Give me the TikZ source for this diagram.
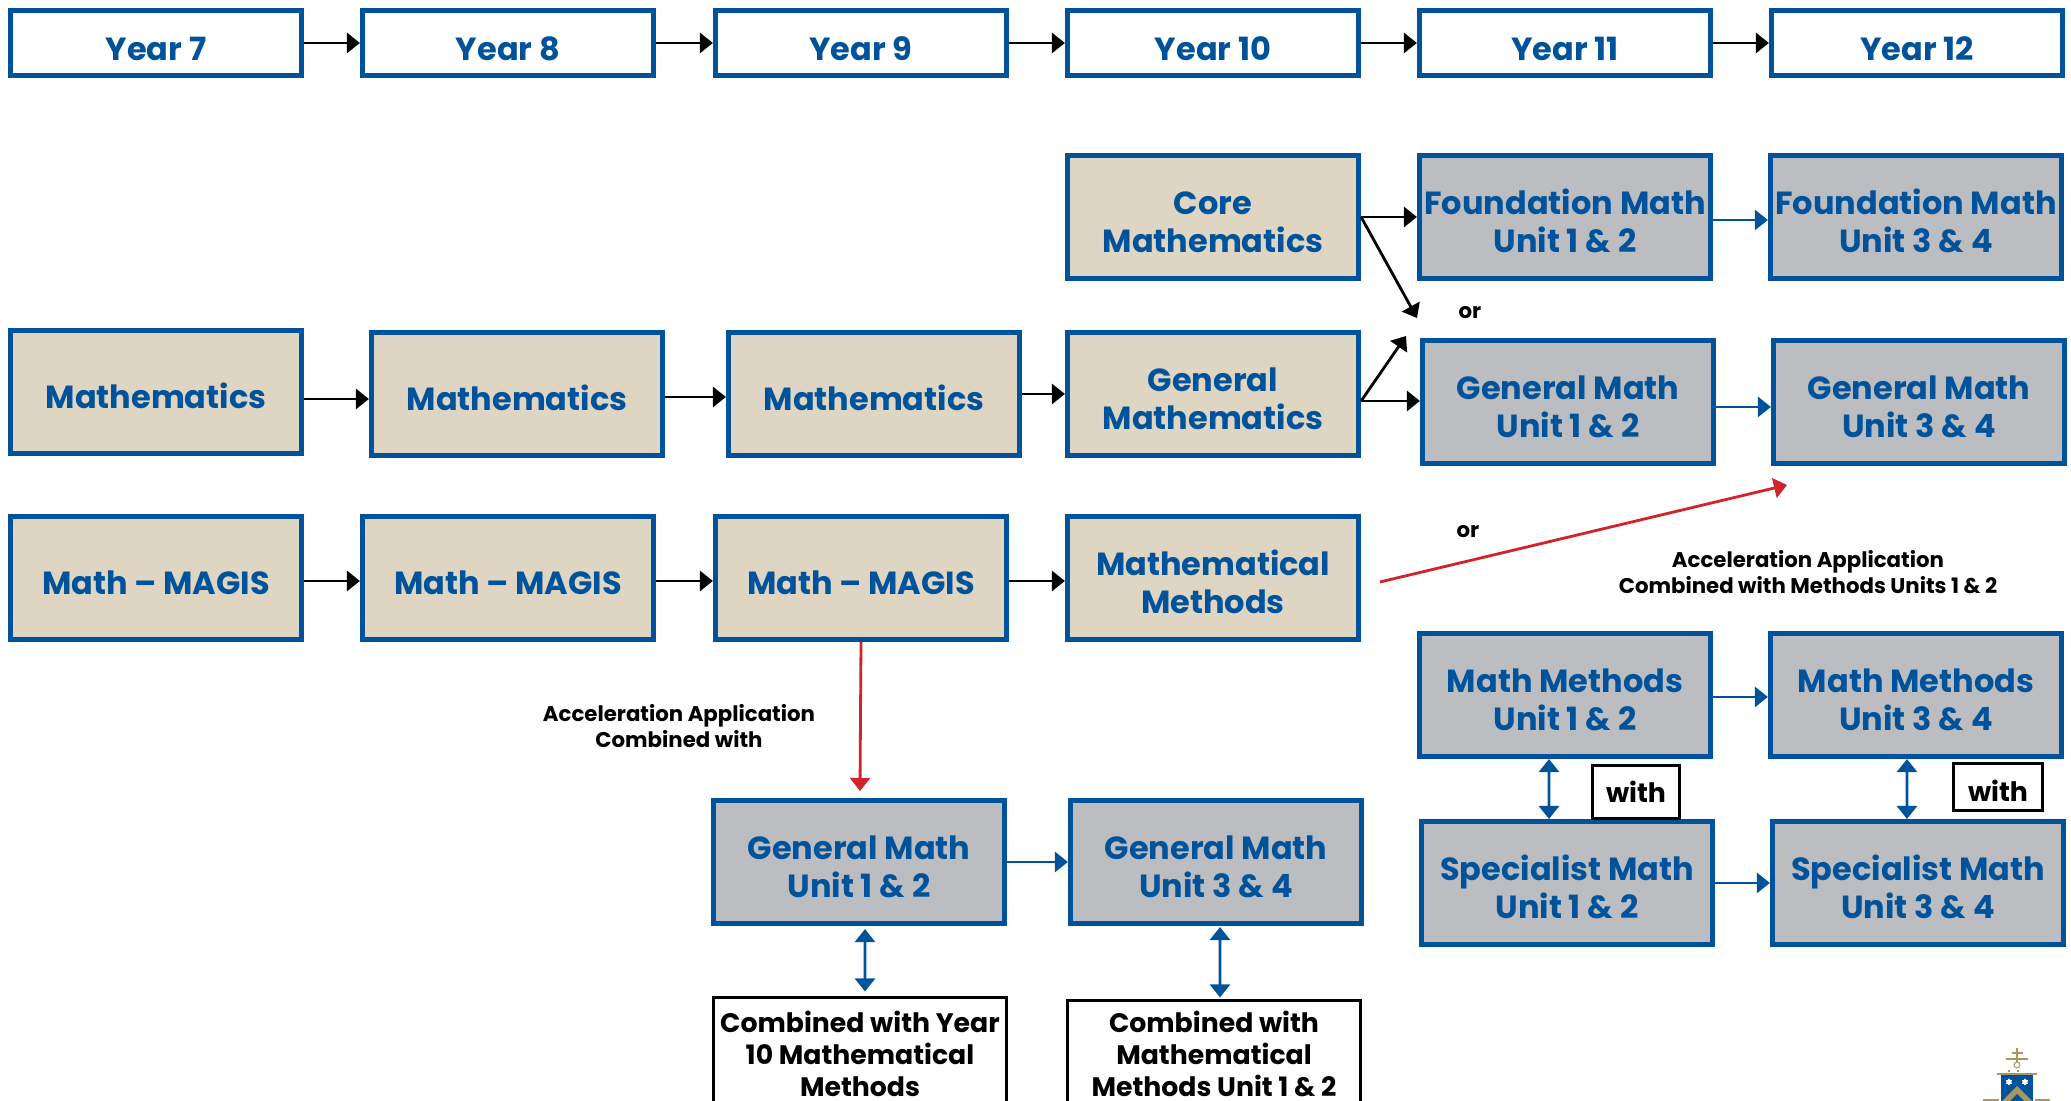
\documentclass[tikz,border=0pt]{standalone}
\usepackage{fontspec}
\setmainfont{Poppins}
\usepackage{xcolor}
\usepackage{tikz}
\usetikzlibrary{positioning, calc, arrows.meta, shapes.geometric}
\definecolor{schoolblue}{RGB}{0,83,155}
\definecolor{tanfill}{RGB}{222,214,194}
\definecolor{greyfill}{RGB}{188,189,192}
\definecolor{arrowred}{RGB}{210,35,42}
\definecolor{crestgold}{RGB}{170,150,95}

\begin{document}
\begin{tikzpicture}[x=0.01cm, y=-0.01cm]
	\tikzstyle{yearbox}=[draw=schoolblue, line width=0.05cm, minimum height=0.65cm, minimum width=2.91cm, inner sep=0, fill=white, text=schoolblue, font=\fontsize{9.1}{10.8}\selectfont\bfseries, execute at begin node={\rule{0pt}{10pt}}]
	\tikzstyle{tanbox}=[draw=schoolblue, line width=0.05cm, minimum height=1.23cm, minimum width=2.91cm, inner sep=0, fill=tanfill, text=schoolblue, align=center, font=\fontsize{9.1}{10.8}\selectfont\bfseries, execute at begin node={\rule{0pt}{9.5pt}}]
	\tikzstyle{twolines}=[execute at begin node={\rule{0pt}{20.5pt}}]
	\tikzstyle{greybox}=[tanbox, twolines, fill=greyfill]
	\tikzstyle{notebox}=[draw=black, line width=0.03cm, minimum height=1.12cm, minimum width=2.93cm, inner sep=0, fill=white, text=black, align=center, font=\fontsize{7.6}{9}\selectfont\bfseries]
	\tikzstyle{withbox}=[draw=black, line width=0.03cm, inner sep=0, fill=white, text=black, font=\fontsize{7.6}{9}\selectfont\bfseries]
	\tikzstyle{smalltext}=[inner sep=0, text=black, align=center, font=\fontsize{6.05}{7.4}\selectfont\bfseries]
	\tikzstyle{blackarrow}=[-{Triangle[length=0.13cm, width=0.2cm]}, line width=0.028cm, black]
	\tikzstyle{bluearrow}=[-{Triangle[length=0.13cm, width=0.2cm]}, line width=0.028cm, schoolblue]
	\tikzstyle{bluedouble}=[{Triangle[length=0.13cm, width=0.2cm]}-{Triangle[length=0.13cm, width=0.2cm]}, line width=0.028cm, schoolblue]
	\tikzstyle{redarrow}=[-{Triangle[length=0.13cm, width=0.2cm]}, line width=0.028cm, arrowred]

	\clip [use as bounding box] (0,0) rectangle (2071,1101);

	% year row
	\node (yr7) at (156,43) [yearbox] {Year 7};
	\node (yr8) at (508,43) [yearbox] {Year 8};
	\node (yr9) at (861,43) [yearbox] {Year 9};
	\node (yr10) at (1213,43) [yearbox] {Year 10};
	\node (yr11) at (1565,43) [yearbox] {Year 11};
	\node (yr12) at (1917,43) [yearbox] {Year 12};

	\draw [blackarrow] (yr7) -- (yr8);
	\draw [blackarrow] (yr8) -- (yr9);
	\draw [blackarrow] (yr9) -- (yr10);
	\draw [blackarrow] (yr10) -- (yr11);
	\draw [blackarrow] (yr11) -- (yr12);

	% year 7 to 10
	\node (core) at (1213,217) [tanbox, twolines] {Core\\Mathematics};
	\node (mat7) at (156,392) [tanbox] {Mathematics};
	\node (mat8) at (517,394) [tanbox] {Mathematics};
	\node (mat9) at (874,394) [tanbox] {Mathematics};
	\node (genm) at (1213,394) [tanbox, twolines] {General\\Mathematics};
	\node (mag7) at (156,578) [tanbox] {Math – MAGIS};
	\node (mag8) at (508,578) [tanbox] {Math – MAGIS};
	\node (mag9) at (861,578) [tanbox] {Math – MAGIS};
	\node (meth) at (1213,578) [tanbox, twolines] {Mathematical\\Methods};

	% year 11 and 12
	\node (fnd12) at (1565,217) [greybox] {Foundation Math\\Unit 1 \& 2};
	\node (fnd34) at (1916,217) [greybox] {Foundation Math\\Unit 3 \& 4};
	\node (gen12) at (1568,402) [greybox] {General Math\\Unit 1 \& 2};
	\node (gen34) at (1919,402) [greybox] {General Math\\Unit 3 \& 4};
	\node (mm12) at (1565,695) [greybox] {Math Methods\\Unit 1 \& 2};
	\node (mm34) at (1916,695) [greybox] {Math Methods\\Unit 3 \& 4};
	\node (sp12) at (1567,883) [greybox] {Specialist Math\\Unit 1 \& 2};
	\node (sp34) at (1918,883) [greybox] {Specialist Math\\Unit 3 \& 4};

	% accelerated path
	\node (acc12) at (859,862) [greybox] {General Math\\Unit 1 \& 2};
	\node (acc34) at (1216,862) [greybox] {General Math\\Unit 3 \& 4};
	\node (comb1) at (860,1054) [notebox] {Combined with Year\\10 Mathematical\\Methods};
	\node (comb2) at (1214,1054) [notebox, minimum height=1.06cm] {Combined with\\Mathematical\\Methods Unit 1 \& 2};

	\node (with1) at (1636,792) [withbox, minimum width=0.87cm, minimum height=0.52cm] {with};
	\node (with2) at (1998,787) [withbox, minimum width=0.88cm, minimum height=0.47cm, execute at begin node={\rule{0pt}{8.4pt}}] {with};

	\node (or1) at (1470,313) [smalltext] {or};
	\node (or2) at (1468,532) [smalltext] {or};
	\node (acclabel1) at (679,726) [smalltext] {Acceleration Application\\Combined with};
	\node (acclabel2) at (1808,572) [smalltext] {Acceleration Application\\Combined with Methods Units 1 \& 2};

	\coordinate (coreend) at (1417,318);
	\coordinate (genend) at (1406,336);
	\coordinate (redstart) at (1380,582);
	\coordinate (redend) at (1787,485);
	\coordinate (accend) at (860,791);

	\draw [blackarrow] ([yshift=-0.07cm]mat7.east) -- ([yshift=-0.07cm]mat7.east -| mat8.west);
	\draw [blackarrow] ([yshift=-0.03cm]mat8.east) -- ([yshift=-0.03cm]mat9.west);
	\draw [blackarrow] (mat9) -- (genm);
	\draw [blackarrow] ([yshift=-0.03cm]mag7.east) -- ([yshift=-0.03cm]mag8.west);
	\draw [blackarrow] ([yshift=-0.03cm]mag8.east) -- ([yshift=-0.03cm]mag9.west);
	\draw [blackarrow] ([yshift=-0.03cm]mag9.east) -- ([yshift=-0.03cm]meth.west);

	\draw [blackarrow] (core.east) -- (fnd12.west |- core.east);
	\draw [blackarrow] (core.east) -- (coreend);
	\draw [blackarrow] ([yshift=-0.07cm]genm.east) -- ([yshift=-0.07cm]genm.east -| gen12.west);
	\draw [blackarrow] ([yshift=-0.07cm]genm.east) -- (genend);

	\draw [bluearrow] ([yshift=-0.03cm]fnd12.east) -- ([yshift=-0.03cm]fnd34.west);
	\draw [bluearrow] ([yshift=-0.05cm]gen12.east) -- ([yshift=-0.05cm]gen34.west);
	\draw [bluearrow] ([yshift=-0.02cm]mm12.east) -- ([yshift=-0.02cm]mm34.west);
	\draw [bluearrow] (sp12.east) -- (sp34.west);
	\draw [bluearrow] (acc12.east) -- (acc34.west);

	\draw [bluedouble] ([xshift=-0.16cm]mm12.south) -- ([xshift=-0.18cm]sp12.north);
	\draw [bluedouble] ([xshift=-0.09cm]mm34.south) -- ([xshift=-0.11cm]sp34.north);
	\draw [bluedouble] ([xshift=0.06cm, yshift=-0.03cm]acc12.south) -- ([xshift=0.05cm, yshift=0.05cm]comb1.north);
	\draw [bluedouble] ([xshift=0.04cm, yshift=-0.01cm]acc34.south) -- ([xshift=0.06cm, yshift=0.02cm]comb2.north);

	\draw [redarrow] (mag9.south) -- (accend);
	\draw [redarrow] (redstart) -- (redend);

	% crest
	\draw [crestgold, line width=0.02cm] (2017,1048) -- (2017,1062);
	\draw [crestgold, line width=0.02cm] (2006,1059) -- (2028,1059);
	\draw [crestgold, line width=0.02cm] (2012,1053) -- (2023,1053);
	\draw [crestgold, line width=0.01cm] (2017,1065) circle (3);
	\draw [crestgold, line width=0.02cm, dotted] (2008,1071) -- (2026,1071);
	\fill [schoolblue] (2001,1074) rectangle (2033,1101);
	\draw [crestgold, line width=0.02cm] (1997,1074) -- (2037,1074);
	\fill [crestgold] (2002,1101) -- (2017,1086) -- (2032,1101) -- cycle;
	\fill [schoolblue] (2010,1101) -- (2017,1094) -- (2024,1101) -- cycle;
	\foreach \starx in {2009,2025}
		\node [star, star points=6, fill=white, inner sep=0, minimum size=0.07cm] at (\starx,1082) {};
	\draw [crestgold, line width=0.02cm] (1983,1100) -- (1999,1100);
	\draw [crestgold, line width=0.02cm] (2035,1100) -- (2050,1100);
\end{tikzpicture}
\end{document}
